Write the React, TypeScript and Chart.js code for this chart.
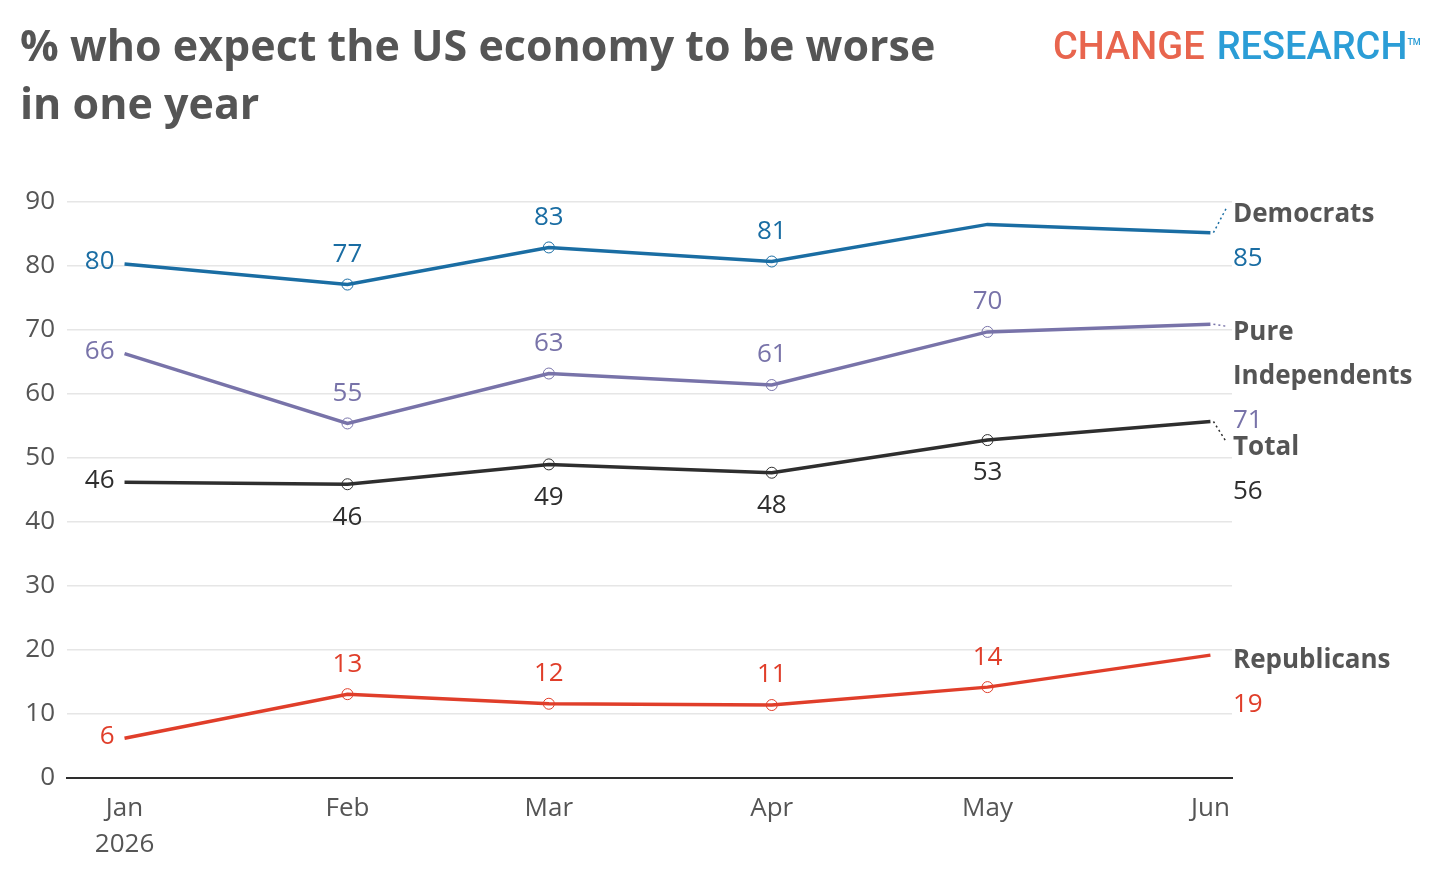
import React, { useEffect, useRef } from 'react';
import { Chart, registerables } from 'chart.js';

Chart.register(...registerables);

// survey months, as days since Jan 1 2026
const months = ['Jan', 'Feb', 'Mar', 'Apr', 'May', 'Jun'];
const dayOffsets = [0, 31, 59, 90, 120, 151];

const seriesNames = ['Democrats', 'Pure Independents', 'Total', 'Republicans'];
const democrats = [80.3, 77.1, 82.9, 80.7, 86.5, 85.2];
const pureIndependents = [66.3, 55.4, 63.2, 61.4, 69.7, 70.9];
const total = [46.2, 45.9, 49.0, 47.7, 52.8, 55.7];
const republicans = [6.2, 13.1, 11.6, 11.4, 14.2, 19.2];

const yTicks = [0, 10, 20, 30, 40, 50, 60, 70, 80, 90];

const colors = ['#1a6da3', '#7873a9', '#2e2e2e', '#e03e2a'];
// points without a marker / value label (besides the first and last)
const quietPoints = [[4], [], [], []];
const labelBelow = [false, false, true, false];
const nameLines = [['Democrats'], ['Pure', 'Independents'], ['Total'], ['Republicans']];
const labelNudge = [-18, 8, 26, 5];

const FONT = '"Open Sans", Lato, sans-serif';

const labelPlugin = {
    id: 'valueLabels',
    afterDatasetsDraw(chart: any) {
        const { ctx, chartArea } = chart;
        ctx.save();
        chart.data.datasets.forEach((ds: any, di: number) => {
            const meta = chart.getDatasetMeta(di);
            const pts = meta.data;
            ctx.fillStyle = colors[di];
            ctx.font = `400 26px ${FONT}`;
            ctx.textBaseline = 'middle';
            pts.forEach((p: any, i: number) => {
                if (i === pts.length - 1 || quietPoints[di].includes(i)) return;
                const v = Math.round(ds.data[i].y);
                if (i === 0) {
                    ctx.textAlign = 'right';
                    ctx.fillText(String(v), p.x - 10, p.y - 2);
                } else {
                    ctx.textAlign = 'center';
                    ctx.fillText(String(v), p.x, labelBelow[di] ? p.y + 33 : p.y - 30);
                }
            });

            // end label on the right
            const last = pts[pts.length - 1];
            const lx = chartArea.right + 1;
            const nameY = last.y + labelNudge[di];
            if (Math.abs(labelNudge[di]) > 6) {
                ctx.save();
                ctx.strokeStyle = colors[di];
                ctx.lineWidth = 1.5;
                ctx.setLineDash([2, 3]);
                ctx.beginPath();
                ctx.moveTo(last.x + 3, last.y);
                ctx.lineTo(lx - 7, nameY - 6);
                ctx.stroke();
                ctx.restore();
            }
            ctx.textAlign = 'left';
            ctx.fillStyle = '#555';
            ctx.font = `700 26px ${FONT}`;
            const lines = nameLines[di];
            lines.forEach((t, k) => ctx.fillText(t, lx, nameY + k * 44));
            ctx.fillStyle = colors[di];
            ctx.font = `400 26px ${FONT}`;
            ctx.fillText(String(Math.round(ds.data[pts.length - 1].y)), lx, nameY + lines.length * 44);
        });
        ctx.restore();
    },
};

export default function App() {
    const chartRef = useRef<HTMLCanvasElement>(null);
    const chartInstance = useRef<Chart | null>(null);

    useEffect(() => {
        document.body.style.margin = '0';
        if (!chartRef.current) return;
        if (chartInstance.current) chartInstance.current.destroy();

        const allSeries = [democrats, pureIndependents, total, republicans];
        chartInstance.current = new Chart(chartRef.current, {
            type: 'line',
            data: {
                datasets: allSeries.map((vals, di) => ({
                    label: seriesNames[di],
                    data: vals.map((v, i) => ({ x: dayOffsets[i], y: v })),
                    borderColor: colors[di],
                    borderWidth: 3.5,
                    backgroundColor: 'rgba(255,255,255,0)',
                    pointBorderColor: colors[di],
                    pointBackgroundColor: 'rgba(255,255,255,0)',
                    pointBorderWidth: 1,
                    pointRadius: (c: any) =>
                        c.dataIndex === 0 || c.dataIndex === vals.length - 1 || quietPoints[di].includes(c.dataIndex) ? 0 : 5.5,
                    pointHoverRadius: 0,
                    tension: 0,
                    clip: false as any,
                })),
            },
            options: {
                animation: false,
                responsive: false,
                events: [],
                layout: { padding: { top: 202, right: 208, left: 0, bottom: 0 } },
                plugins: { legend: { display: false }, tooltip: { enabled: false } },
                scales: {
                    x: {
                        type: 'linear',
                        min: -8,
                        max: 154,
                        afterBuildTicks: (scale: any) => {
                            scale.ticks = dayOffsets.map((v) => ({ value: v }));
                        },
                        afterFit: (scale: any) => {
                            scale.height = 102;
                        },
                        grid: { display: false, drawTicks: false },
                        border: { display: true, color: '#2e2e2e', width: 2 },
                        ticks: {
                            autoSkip: false,
                            maxRotation: 0,
                            padding: 12,
                            color: '#555',
                            font: { family: FONT, size: 26, lineHeight: 1.4 },
                            callback: (value: any) => {
                                const m = months[dayOffsets.indexOf(value)];
                                return value === 0 ? [m, '2026'] : m;
                            },
                        },
                    },
                    y: {
                        min: 0,
                        max: 90,
                        afterBuildTicks: (scale: any) => {
                            scale.ticks = yTicks.map((v) => ({ value: v }));
                        },
                        afterFit: (scale: any) => {
                            scale.width = 67;
                        },
                        grid: {
                            color: (c: any) => (c.tick && c.tick.value === 0 ? 'rgba(0,0,0,0)' : '#e6e6e6'),
                            lineWidth: 1.5,
                            drawTicks: false,
                        },
                        border: { display: false },
                        ticks: {
                            padding: 12,
                            color: '#555',
                            font: { family: FONT, size: 26 },
                        },
                    },
                },
            },
            plugins: [labelPlugin],
        } as any);

        return () => {
            if (chartInstance.current) {
                chartInstance.current.destroy();
                chartInstance.current = null;
            }
        };
    }, []);

    return (
        <div style={{ position: 'absolute', left: 0, top: 0, width: 1440, height: 880, background: '#fff', overflow: 'hidden' }}>
            <canvas ref={chartRef} width={1440} height={880} style={{ position: 'absolute', left: 0, top: 0, width: 1440, height: 880 }}></canvas>
            {/* Title */}
            <div style={{ position: 'absolute', left: 20, top: 16, width: 1000, fontFamily: FONT, fontWeight: 700, fontSize: 43, lineHeight: '58px', color: '#555' }}>
                % who expect the US economy to be worse<br />in one year
            </div>
            {/* Logo */}
            <div style={{ position: 'absolute', left: 1053, top: 24, fontFamily: 'Roboto, sans-serif', fontWeight: 500, fontSize: 38, lineHeight: '44px', whiteSpace: 'nowrap' }}>
                <span style={{ color: '#e8654e' }}>CHANGE</span>
                <span style={{ color: '#2b9dd6', marginLeft: 12 }}>RESEARCH</span>
                <sup style={{ color: '#2b9dd6', fontSize: 9, verticalAlign: 'top', position: 'relative', top: -4 }}>TM</sup>
            </div>
        </div>
    );
}
